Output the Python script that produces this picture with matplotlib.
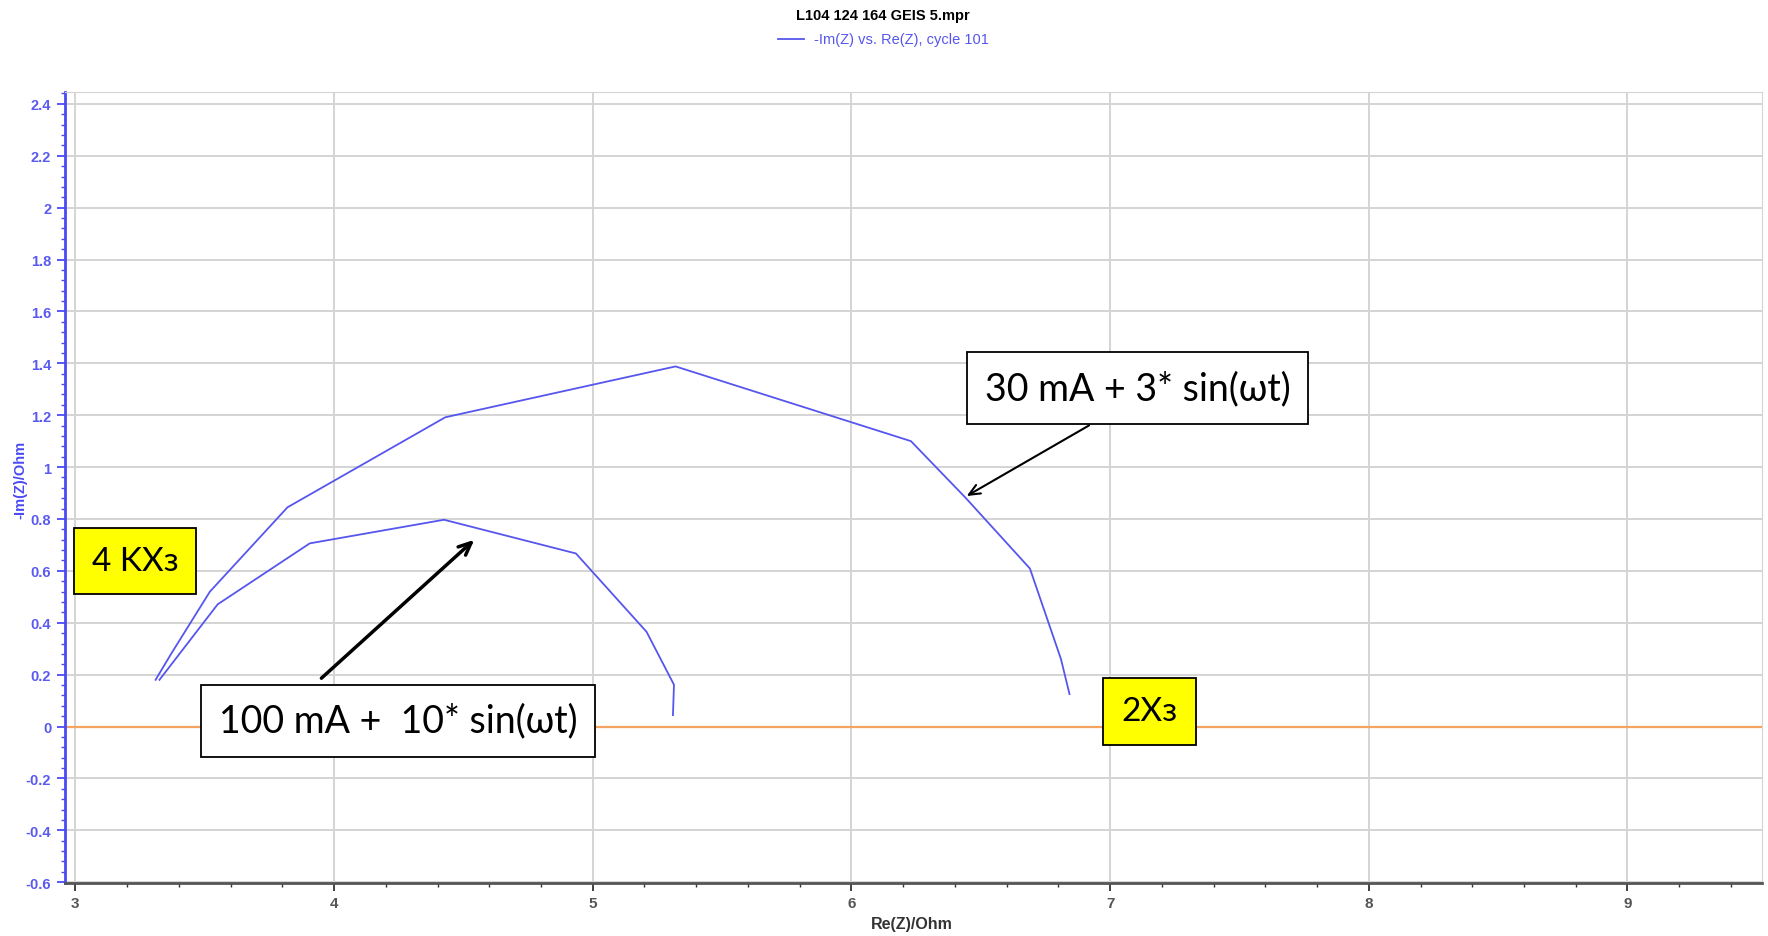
import matplotlib
matplotlib.use("Agg")
import matplotlib.pyplot as plt
from matplotlib.lines import Line2D
from matplotlib.ticker import MultipleLocator

# Nyquist data (Re(Z), -Im(Z)) in Ohm
re_30ma = [3.31, 3.37, 3.52, 3.82, 4.43, 5.32, 6.23, 6.44, 6.69, 6.81, 6.843]
im_30ma = [0.18, 0.28, 0.52, 0.845, 1.192, 1.388, 1.10, 0.883, 0.609, 0.26, 0.125]

re_100ma = [3.325, 3.55, 3.906, 4.425, 4.935, 5.208, 5.314, 5.31]
im_100ma = [0.18, 0.471, 0.706, 0.797, 0.667, 0.365, 0.161, 0.044]

title = "L104 124 164 GEIS 5.mpr"
legend_label = "-Im(Z) vs. Re(Z), cycle 101"

blue = "#5656ee"
axis_blue = "#4a4af5"

plt.rcParams["font.family"] = ["Liberation Sans", "DejaVu Sans"]

fig = plt.figure(figsize=(17.68, 9.37), dpi=100)
ax = fig.add_axes([0.0365, 0.0566, 0.9601, 0.8445])

ax.plot(re_30ma, im_30ma, color=blue, lw=1.3, zorder=3)
ax.plot(re_100ma, im_100ma, color=blue, lw=1.3, zorder=3)
ax.axhline(0, color="#f4a460", lw=1.6, zorder=2)

ax.set_xlim(2.958, 9.52)
ax.set_ylim(-0.603, 2.447)

ax.xaxis.set_major_locator(MultipleLocator(1))
ax.xaxis.set_minor_locator(MultipleLocator(0.2))
ax.yaxis.set_major_locator(MultipleLocator(0.2))
ax.yaxis.set_minor_locator(MultipleLocator(0.04))
ax.yaxis.set_major_formatter(plt.FuncFormatter(lambda v, p: f"{v:g}" if abs(v) > 1e-9 else "0"))

ax.grid(True, which="major", color="#d4d4d4", lw=1.4, zorder=0)

ax.spines["left"].set_color(axis_blue)
ax.spines["left"].set_linewidth(2)
ax.spines["bottom"].set_color("#555555")
ax.spines["bottom"].set_linewidth(2)
ax.spines["top"].set_color("#d4d4d4")
ax.spines["right"].set_color("#d4d4d4")

ax.tick_params(axis="y", which="major", colors=axis_blue, length=6, width=1.3, labelsize=10.5)
ax.tick_params(axis="y", which="minor", colors=axis_blue, length=3, width=1.0)
ax.tick_params(axis="x", which="major", colors="#333333", length=6, width=1.3, labelsize=11)
ax.tick_params(axis="x", which="minor", colors="#333333", length=3, width=1.0)
for lab in ax.get_xticklabels():
    lab.set_fontweight("bold")
    lab.set_color("#555555")
for lab in ax.get_yticklabels():
    lab.set_fontweight("bold")
    lab.set_color("#5a5af0")

ax.set_xlabel("Re(Z)/Ohm", fontsize=11.5, fontweight="bold", color="#333333")
ax.xaxis.set_label_coords(0.499, -0.042)
ax.set_ylabel("-Im(Z)/Ohm", fontsize=10.5, fontweight="bold", color=axis_blue)
ax.yaxis.set_label_coords(-0.022, 0.51)

# title and legend above the plot
fig.text(0.4994, 0.983, title, ha="center", va="center", fontsize=10.5, fontweight="bold")
fig.add_artist(Line2D([0.440, 0.455], [0.957, 0.957], color=blue, lw=1.3))
fig.text(0.4604, 0.957, legend_label, ha="left", va="center", fontsize=10.5, color=blue)

# annotation boxes
box_font = ["Lato", "DejaVu Sans"]
ax.text(7.106, 1.303, "30 mA + 3* sin(\u03c9t)", ha="center", va="center", fontsize=27,
        family=box_font, zorder=5,
        bbox=dict(boxstyle="square,pad=0.48", fc="white", ec="black", lw=1.3))
ax.text(4.247, 0.023, "100 mA +  10* sin(\u03c9t)", ha="center", va="center", fontsize=27,
        family=box_font, zorder=5,
        bbox=dict(boxstyle="square,pad=0.48", fc="white", ec="black", lw=1.3))
ax.text(3.232, 0.638, "4 KX\u0437", ha="center", va="center", fontsize=24,
        family=box_font, zorder=5,
        bbox=dict(boxstyle="square,pad=0.53", fc="yellow", ec="black", lw=1.3))
ax.text(7.152, 0.058, "2X\u0437", ha="center", va="center", fontsize=24,
        family=box_font, zorder=5,
        bbox=dict(boxstyle="square,pad=0.56", fc="yellow", ec="black", lw=1.3))

ax.annotate("", xy=(6.436, 0.883), xytext=(6.928, 1.166),
            arrowprops=dict(arrowstyle="->,head_length=0.8,head_width=0.35", color="black", lw=1.5),
            zorder=6)
ax.annotate("", xy=(4.55, 0.727), xytext=(3.943, 0.179),
            arrowprops=dict(arrowstyle="->,head_length=0.9,head_width=0.4", color="black", lw=2.5),
            zorder=6)

fig.savefig("out.png", dpi=100)
